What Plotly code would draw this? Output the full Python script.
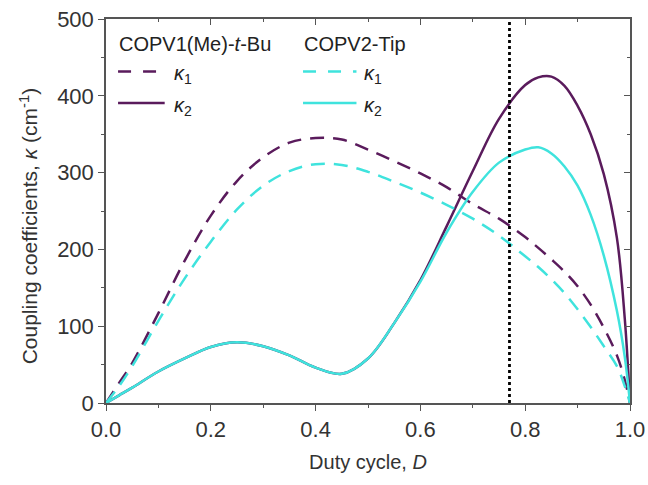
import plotly.graph_objects as go

# Duty cycle grid
D = [0.0, 0.025, 0.05, 0.1, 0.15, 0.2, 0.25, 0.3, 0.35, 0.4, 0.45, 0.5, 0.55, 0.6,
     0.65, 0.7, 0.75, 0.8, 0.825, 0.85, 0.875, 0.9, 0.925, 0.95, 0.975, 0.99, 1.0]

k1_copv1 = [0, 26, 52, 117, 185, 244, 289, 320, 339, 345, 343, 330, 315, 299,
            281, 259, 240, 216, 202, 187, 171, 152, 128, 98, 62, 30, 0]
k2_copv1 = [0, 10, 20, 41, 58, 73, 79, 74, 62, 46, 38, 58, 104, 160,
            230, 302, 370, 414, 424, 425, 413, 387, 350, 298, 215, 110, 0]
k1_copv2 = [0, 22, 48, 107, 162, 210, 252, 283, 302, 311, 310, 301, 288, 274,
            258, 240, 218, 191, 177, 161, 143, 122, 99, 74, 48, 22, 0]
k2_copv2 = [0, 10, 20, 41, 58, 73, 79, 74, 62, 46, 38, 58, 104, 158,
            222, 275, 313, 330, 333, 325, 308, 283, 245, 192, 120, 60, 0]

vline_x = [0.77, 0.77]
vline_y = [0, 500]

x_ticks = [0.0, 0.2, 0.4, 0.6, 0.8, 1.0]
y_ticks = [0, 100, 200, 300, 400, 500]

series = [
    ("COPV1(Me)-<i>t</i>-Bu", "<i>κ</i><sub>1</sub>", k1_copv1, "#5a1b5c", "dash"),
    ("COPV1(Me)-<i>t</i>-Bu", "<i>κ</i><sub>2</sub>", k2_copv1, "#5a1b5c", "solid"),
    ("COPV2-Tip", "<i>κ</i><sub>1</sub>", k1_copv2, "#3fe3dd", "dash"),
    ("COPV2-Tip", "<i>κ</i><sub>2</sub>", k2_copv2, "#3fe3dd", "solid"),
]

FONT = "Liberation Sans, Arial, sans-serif"
AXC = "#555555"
DASH = "14px,9px"

fig = go.Figure()
for grp, lab, vals, col, style in series:
    fig.add_trace(go.Scatter(x=D, y=vals, mode="lines", name=lab, showlegend=False,
                             line=dict(color=col, width=2.5, shape="spline",
                                       dash=DASH if style == "dash" else "solid")))
fig.add_trace(go.Scatter(x=vline_x, y=vline_y, mode="lines", line=dict(color="black", width=2.8, dash="dot"),
                         showlegend=False, xaxis="x2", yaxis="y2", hoverinfo="skip"))

# manual legend (two groups, each with a title and two samples)
legend_groups = [(0.023, 0.112, 0.126), (0.376, 0.478, 0.489)]
title_y = 0.935
row_y = [0.863, 0.781]
shapes = []
annotations = []
for gi, (x0, x1, xt) in enumerate(legend_groups):
    grp_series = series[gi * 2: gi * 2 + 2]
    annotations.append(dict(xref="paper", yref="paper", x=x0 - 0.002, y=title_y, xanchor="left", yanchor="middle",
                            text=grp_series[0][0], showarrow=False, font=dict(size=20, color="#222222")))
    for ri, (grp, lab, vals, col, style) in enumerate(grp_series):
        shapes.append(dict(type="line", xref="paper", yref="paper", x0=x0, x1=x1, y0=row_y[ri], y1=row_y[ri],
                           line=dict(color=col, width=2.5, dash="13px,12px" if style == "dash" else "solid")))
        annotations.append(dict(xref="paper", yref="paper", x=xt, y=row_y[ri] - 0.008, xanchor="left", yanchor="middle",
                                text=lab, showarrow=False, font=dict(size=20, color="#222222")))

# y-axis title (placed slightly below the plot centre, as in the reference)
annotations.append(dict(xref="paper", yref="paper", x=-0.147, y=0.46, xanchor="center", yanchor="middle",
                        textangle=-90, showarrow=False,
                        text="Coupling coefficients, <i>κ</i> (cm<sup>-1</sup>)",
                        font=dict(size=21, color="#333333")))

common_axis = dict(showgrid=False, zeroline=False, showline=True, linecolor=AXC, linewidth=1.5,
                   tickcolor=AXC, tickwidth=1.2, ticklen=6, automargin=False)

fig.update_layout(
    width=648, height=485,
    margin=dict(l=106, r=18, t=19, b=82),
    plot_bgcolor="white", paper_bgcolor="white",
    font=dict(family=FONT, size=22, color="#333333"),
    showlegend=False,
    shapes=shapes, annotations=annotations,
    xaxis=dict(range=[0, 1], tickvals=x_ticks, ticktext=[f"{v:.1f}" for v in x_ticks], ticks="outside",
               minor=dict(dtick=0.1, ticks="outside", ticklen=3, tickcolor=AXC),
               tickfont=dict(size=22),
               title=dict(text="Duty cycle, <i>D</i>", standoff=14, font=dict(size=20)),
               **common_axis),
    yaxis=dict(range=[0, 500], tickvals=y_ticks, ticks="outside",
               minor=dict(dtick=50, ticks="outside", ticklen=3, tickcolor=AXC),
               tickfont=dict(size=22),
               **common_axis),
    xaxis2=dict(range=[0, 1], overlaying="x", side="top", anchor="y2", tickvals=x_ticks, showticklabels=False,
                ticks="inside", minor=dict(dtick=0.1, ticks="inside", ticklen=3, tickcolor=AXC),
                **common_axis),
    yaxis2=dict(range=[0, 500], overlaying="y", side="right", anchor="x2", tickvals=y_ticks, showticklabels=False,
                ticks="inside", minor=dict(dtick=50, ticks="inside", ticklen=3, tickcolor=AXC),
                **common_axis),
)

fig.write_html("out.html")
